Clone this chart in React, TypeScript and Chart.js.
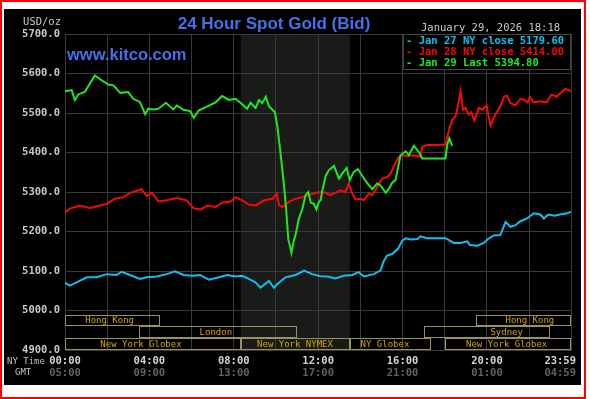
import React, { useEffect, useRef } from "react";
import { Chart, registerables } from "chart.js";
Chart.register(...registerables);

// ---------- data ----------
const yMin = 4900;
const yMax = 5700;
const gridMinutes = [0, 120, 240, 360, 480, 600, 720, 840, 960, 1080, 1200, 1320, 1439];
const xLabelMinutes = [0, 240, 480, 720, 960, 1200, 1439];
const nyTimeLabels = ["00:00", "04:00", "08:00", "12:00", "16:00", "20:00", "23:59"];
const gmtLabels = ["05:00", "09:00", "13:00", "17:00", "21:00", "01:00", "04:59"];

const jan29Minutes = [0, 19, 28, 38, 57, 66, 85, 104, 123, 138, 157, 180, 194, 213, 228, 237, 251, 266, 287, 308, 318, 337, 356, 366, 381, 405, 428, 447, 466, 485, 504, 518, 528, 542, 552, 561, 571, 580, 597, 604, 613, 623, 629, 635, 640, 644, 650, 656, 665, 675, 684, 692, 699, 708, 715, 722, 727, 732, 741, 750, 765, 779, 789, 801, 810, 821, 833, 845, 860, 874, 888, 898, 912, 921, 931, 940, 954, 969, 978, 992, 1006, 1016, 1049, 1082, 1087, 1093, 1098, 1101];
const jan29Values = [5555, 5558, 5533, 5547, 5554, 5568, 5595, 5583, 5572, 5570, 5551, 5553, 5536, 5528, 5497, 5511, 5509, 5511, 5526, 5509, 5519, 5508, 5505, 5488, 5507, 5517, 5527, 5543, 5533, 5536, 5522, 5511, 5526, 5513, 5533, 5525, 5541, 5517, 5502, 5466, 5398, 5314, 5255, 5180, 5163, 5146, 5175, 5193, 5232, 5257, 5292, 5300, 5273, 5270, 5256, 5275, 5279, 5304, 5340, 5355, 5366, 5334, 5347, 5361, 5330, 5351, 5358, 5341, 5322, 5307, 5322, 5316, 5298, 5308, 5324, 5330, 5393, 5403, 5393, 5417, 5402, 5385, 5385, 5385, 5419, 5436, 5424, 5417];

const jan28Minutes = [0, 14, 43, 71, 90, 119, 142, 166, 185, 218, 232, 247, 266, 289, 318, 346, 365, 386, 405, 428, 447, 471, 485, 504, 523, 542, 566, 590, 602, 609, 618, 637, 656, 675, 694, 713, 732, 741, 755, 769, 783, 797, 807, 817, 826, 840, 850, 864, 874, 888, 902, 916, 926, 937, 947, 959, 973, 992, 1011, 1016, 1030, 1059, 1082, 1091, 1101, 1111, 1120, 1125, 1132, 1139, 1148, 1155, 1164, 1177, 1186, 1199, 1203, 1210, 1224, 1238, 1248, 1257, 1267, 1281, 1295, 1305, 1316, 1322, 1333, 1352, 1369, 1384, 1398, 1410, 1423, 1433, 1439];
const jan28Values = [5247, 5258, 5266, 5259, 5264, 5270, 5283, 5287, 5298, 5307, 5290, 5298, 5276, 5279, 5285, 5279, 5259, 5256, 5266, 5262, 5273, 5276, 5287, 5279, 5268, 5266, 5279, 5283, 5296, 5266, 5262, 5275, 5283, 5287, 5292, 5298, 5300, 5298, 5292, 5298, 5304, 5300, 5321, 5296, 5281, 5283, 5279, 5296, 5292, 5313, 5334, 5338, 5347, 5368, 5386, 5393, 5391, 5393, 5389, 5415, 5419, 5419, 5420, 5453, 5483, 5492, 5530, 5555, 5508, 5513, 5496, 5502, 5481, 5513, 5508, 5519, 5500, 5469, 5496, 5517, 5541, 5544, 5525, 5519, 5536, 5534, 5527, 5541, 5527, 5530, 5527, 5547, 5541, 5551, 5561, 5558, 5555];

const jan27Minutes = [0, 14, 33, 62, 90, 119, 147, 161, 185, 213, 232, 261, 289, 313, 337, 365, 384, 409, 438, 461, 485, 504, 523, 542, 556, 580, 594, 604, 627, 656, 680, 703, 727, 746, 769, 792, 817, 835, 850, 878, 897, 907, 916, 930, 947, 959, 969, 983, 1002, 1011, 1030, 1059, 1082, 1106, 1125, 1144, 1151, 1172, 1191, 1203, 1219, 1238, 1253, 1267, 1281, 1295, 1314, 1333, 1352, 1362, 1374, 1393, 1407, 1428, 1439];
const jan27Values = [5070, 5063, 5071, 5084, 5084, 5092, 5090, 5098, 5090, 5080, 5084, 5086, 5092, 5099, 5090, 5088, 5090, 5078, 5084, 5090, 5086, 5088, 5080, 5071, 5058, 5075, 5058, 5067, 5084, 5090, 5101, 5092, 5087, 5086, 5081, 5088, 5090, 5097, 5086, 5092, 5101, 5126, 5139, 5143, 5156, 5177, 5183, 5180, 5181, 5188, 5183, 5183, 5183, 5171, 5171, 5175, 5166, 5164, 5171, 5181, 5190, 5191, 5224, 5212, 5216, 5226, 5233, 5246, 5243, 5233, 5243, 5240, 5243, 5246, 5250];

const legendLabels = ["Jan 27 NY close 5179.60", "Jan 28 NY close 5414.00", "Jan 29 Last 5394.80"];

const shadeStart = 500; // 08:20
const shadeEnd = 810; // 13:30

const sessionNames = ["Hong Kong", "Hong Kong", "London", "Sydney", "New York Globex", "New York NYMEX", "NY Globex", "New York Globex"];
const sessionStart = [0, 1170, 210, 1020, 0, 500, 810, 1080];
const sessionEnd = [270, 1439, 660, 1380, 500, 810, 1040, 1439];
const sessionRow = [0, 0, 1, 1, 2, 2, 2, 2];
const sessionLabelAt = [127, 1322, 429, 1256, 216, 654, 910, 1256];

// ---------- styles ----------
const CYAN = "#12bfec";
const RED = "#f50808";
const GREEN = "#22e622";
const GRID = "#3a3a3a";
const MONO = '"DejaVu Sans Mono", monospace';
const rowEdges = [4989, 4961, 4931, 4900];

const decor = {
  id: "decor",
  beforeDraw(chart: any) {
    const { ctx, chartArea: a, scales } = chart;
    ctx.save();
    ctx.fillStyle = "#000";
    ctx.fillRect(4, 9, 577, 376);
    const s0 = scales.x.getPixelForValue(shadeStart);
    const s1 = scales.x.getPixelForValue(shadeEnd);
    ctx.fillStyle = "#191b19";
    ctx.fillRect(s0, a.top, s1 - s0, a.bottom - a.top);
    ctx.restore();
  },
  beforeDatasetsDraw(chart: any) {
    const { ctx, scales } = chart;
    const x = scales.x, y = scales.y;
    ctx.save();
    ctx.lineWidth = 1;
    ctx.strokeStyle = "#98925c";
    ctx.fillStyle = "#d0a400";
    ctx.font = `9px ${MONO}`;
    ctx.textAlign = "center";
    ctx.textBaseline = "middle";
    sessionNames.forEach((name, i) => {
      const x0 = Math.round(x.getPixelForValue(sessionStart[i])) + 0.5;
      const x1 = Math.round(x.getPixelForValue(sessionEnd[i])) - 0.5;
      const r = sessionRow[i];
      const y0 = Math.round(y.getPixelForValue(rowEdges[r])) + 0.5;
      const y1 = Math.round(y.getPixelForValue(rowEdges[r + 1])) - 0.5;
      ctx.strokeRect(x0, y0, x1 - x0, y1 - y0);
      ctx.fillText(name, x.getPixelForValue(sessionLabelAt[i]), (y0 + y1) / 2 + 0.5);
    });
    ctx.restore();
  },
  afterDraw(chart: any) {
    const { ctx, scales, chartArea: a } = chart;
    const x = scales.x;
    ctx.save();
    // title
    ctx.textBaseline = "middle";
    ctx.fillStyle = "#4570e8";
    ctx.font = 'bold 17px "Liberation Sans", Arial, sans-serif';
    ctx.textAlign = "center";
    ctx.fillText("24 Hour Spot Gold (Bid)", 274, 24);
    ctx.textAlign = "left";
    ctx.font = 'bold 16.5px "Liberation Sans", Arial, sans-serif';
    ctx.fillText("www.kitco.com", 67, 55);
    // units + date
    ctx.font = `10.5px ${MONO}`;
    ctx.fillStyle = "#c8c8c8";
    ctx.textAlign = "right";
    ctx.fillText("USD/oz", 61, 22);
    ctx.textAlign = "left";
    ctx.fillText("January 29, 2026 18:18", 421, 28);
    // legend box
    const lx = 403, ly = a.top, lw = a.right - 403, lh = 36;
    ctx.fillStyle = "#000";
    ctx.fillRect(lx, ly, lw, lh);
    ctx.strokeStyle = "#444";
    ctx.lineWidth = 1;
    ctx.strokeRect(lx + 0.5, ly + 0.5, lw - 1, lh - 1);
    ctx.font = `bold 10.5px ${MONO}`;
    const cols = [CYAN, RED, GREEN];
    legendLabels.forEach((t, i) => {
      ctx.fillStyle = cols[i];
      ctx.fillText("- " + t, 406, ly + 7 + i * 11);
    });
    // x labels
    ctx.font = `bold 10.5px ${MONO}`;
    xLabelMinutes.forEach((m, i) => {
      const px = x.getPixelForValue(m);
      const last = i === xLabelMinutes.length - 1;
      ctx.textAlign = last ? "right" : "center";
      const tx = last ? px + 5 : px;
      ctx.fillStyle = "#d4d4d4";
      ctx.fillText(nyTimeLabels[i], tx, 361);
      ctx.fillStyle = "#626262";
      ctx.fillText(gmtLabels[i], tx, 373);
    });
    ctx.font = `9px ${MONO}`;
    ctx.textAlign = "left";
    ctx.fillStyle = "#c0c0c0";
    ctx.fillText("NY Time", 7, 362);
    ctx.fillText("GMT", 15, 373);
    ctx.restore();
  },
};

function toPoints(ms: number[], vs: number[]) {
  return ms.map((m, i) => ({ x: m, y: vs[i] }));
}

export default function App() {
  const ref = useRef<HTMLCanvasElement>(null);
  useEffect(() => {
    const canvas = ref.current!;
    const chart = new Chart(canvas, {
      type: "line",
      data: {
        datasets: [
          { label: "Jan 29", data: toPoints(jan29Minutes, jan29Values), borderColor: GREEN, borderWidth: 2, pointRadius: 0, tension: 0 },
          { label: "Jan 28", data: toPoints(jan28Minutes, jan28Values), borderColor: RED, borderWidth: 2, pointRadius: 0, tension: 0 },
          { label: "Jan 27", data: toPoints(jan27Minutes, jan27Values), borderColor: CYAN, borderWidth: 2, pointRadius: 0, tension: 0 },
        ],
      },
      options: {
        animation: false,
        responsive: false,
        maintainAspectRatio: false,
        devicePixelRatio: 1,
        layout: { padding: { left: 5, top: 34, right: 19, bottom: 49 } },
        plugins: { legend: { display: false }, tooltip: { enabled: false }, title: { display: false } },
        scales: {
          x: {
            type: "linear",
            min: 0,
            max: 1439,
            afterBuildTicks: (s: any) => {
              s.ticks = gridMinutes.map((v) => ({ value: v }));
            },
            afterFit: (s: any) => {
              s.height = 0;
            },
            ticks: { display: false },
            grid: { color: GRID, drawTicks: false, lineWidth: 1 },
            border: { display: true, color: GRID },
          },
          y: {
            min: yMin,
            max: yMax,
            afterFit: (s: any) => {
              s.width = 60;
            },
            ticks: {
              stepSize: 100,
              padding: 5,
              color: "#c8c8c8",
              font: { family: "DejaVu Sans Mono", size: 10.5, weight: "bold" },
              callback: (v: any) => Number(v).toFixed(1),
            },
            grid: { color: GRID, drawTicks: false, lineWidth: 1 },
            border: { display: true, color: GRID },
          },
        },
      },
      plugins: [decor],
    } as any);
    return () => chart.destroy();
  }, []);
  return (
    <div style={{ position: "absolute", left: 0, top: 0, width: 590, height: 399, background: "#fff" }}>
      <div
        style={{
          position: "absolute",
          left: 0,
          top: 0,
          width: 586,
          height: 399,
          boxSizing: "border-box",
          border: "2px solid #ff0000",
        }}
      />
      <canvas ref={ref} width={590} height={399} style={{ position: "absolute", left: 0, top: 0, width: 590, height: 399 }} />
    </div>
  );
}
